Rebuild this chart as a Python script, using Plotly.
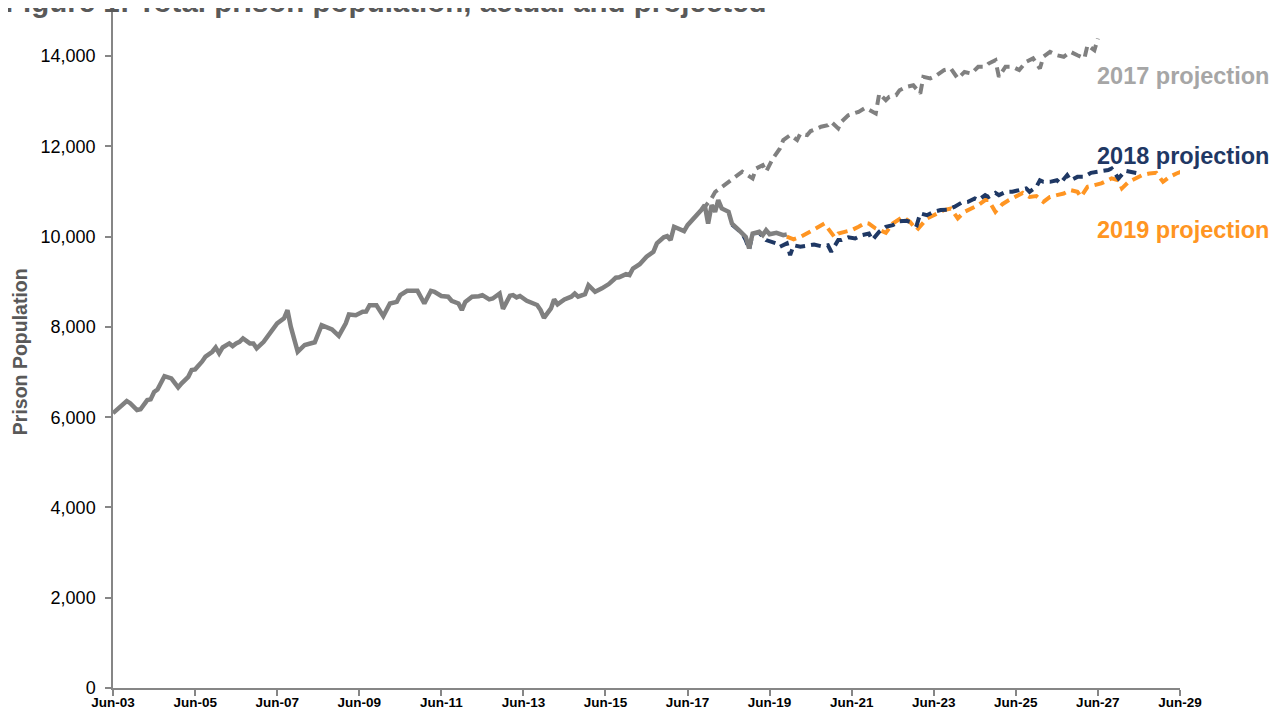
import plotly.graph_objects as go

# ---------------- data ----------------
actual_dates = ["2003-06","2003-08","2003-10","2003-11","2004-01","2004-02","2004-04","2004-05","2004-06","2004-07",
"2004-08","2004-09","2004-11","2005-01","2005-02","2005-04","2005-05","2005-06","2005-08","2005-09",
"2005-11","2005-12","2006-01","2006-02","2006-04","2006-05","2006-06","2006-07","2006-08","2006-10",
"2006-11","2006-12","2007-02","2007-04","2007-06","2007-08","2007-09","2007-10","2007-12","2008-02",
"2008-03","2008-05","2008-07","2008-09","2008-10","2008-12","2009-02","2009-03","2009-05","2009-07",
"2009-08","2009-09","2009-11","2010-01","2010-02","2010-03","2010-05","2010-06","2010-08","2010-10",
"2010-11","2011-01","2011-03","2011-04","2011-06","2011-08","2011-09","2011-11","2011-12","2012-01",
"2012-03","2012-05","2012-06","2012-08","2012-09","2012-11","2012-12","2013-02","2013-03","2013-04",
"2013-05","2013-07","2013-09","2013-10","2013-11","2013-12","2014-02","2014-03","2014-04","2014-06",
"2014-08","2014-09","2014-10","2014-12","2015-01","2015-03","2015-05","2015-07","2015-09","2015-10",
"2015-12","2016-01","2016-02","2016-04","2016-06","2016-08","2016-09","2016-11","2016-12","2017-01",
"2017-02","2017-04","2017-05","2017-06","2017-08","2017-09","2017-10","2017-11","2017-12","2018-01",
"2018-02","2018-03","2018-04","2018-06","2018-07","2018-09","2018-11","2018-12","2019-01","2019-03",
"2019-04","2019-05","2019-06","2019-08","2019-10","2019-11"]
actual_values = [6090,6230,6360,6310,6160,6175,6380,6395,6560,6615,
6785,6910,6860,6660,6750,6895,7045,7060,7230,7340,
7450,7545,7415,7545,7635,7575,7635,7670,7745,7635,
7635,7525,7670,7870,8080,8190,8370,8000,7450,7600,
7620,7660,8040,7965,7945,7800,8080,8275,8260,8335,
8340,8480,8480,8240,8410,8520,8555,8705,8800,8815,
8800,8520,8800,8780,8685,8670,8580,8520,8375,8555,
8670,8680,8705,8610,8630,8740,8400,8690,8705,8655,
8685,8580,8520,8485,8375,8200,8410,8610,8500,8610,
8670,8740,8670,8725,8925,8780,8855,8950,9090,9100,
9170,9150,9295,9390,9555,9665,9850,9985,10010,9925,
10220,10145,10125,10255,10425,10480,10590,10700,10290,10700,
10550,10810,10625,10550,10290,10145,9995,9740,10070,10110,
10035,10145,10055,10085,10035,10050]

proj2017_dates = ["2017-10","2017-11","2018-01","2018-02","2018-04","2018-06","2018-08","2018-10","2019-01","2019-02",
"2019-04","2019-05","2019-07","2019-09","2019-10","2019-12","2020-02","2020-03","2020-05","2020-06",
"2020-08","2020-09","2020-11","2020-12","2021-02","2021-03","2021-05","2021-07","2021-08","2021-10",
"2022-01","2022-02","2022-04","2022-05","2022-07","2022-08","2022-10","2022-12","2023-02","2023-03",
"2023-05","2023-07","2023-09","2023-11","2024-01","2024-03","2024-05","2024-07","2024-09","2024-10",
"2024-12","2025-01","2025-03","2025-05","2025-07","2025-09","2025-11","2026-01","2026-02","2026-04",
"2026-06","2026-08","2026-10","2026-12","2027-02","2027-03","2027-05","2027-06"]
proj2017_values = [10590,10660,10850,10990,11100,11215,11325,11440,11290,11510,
11585,11440,11735,11955,12140,12250,12140,12285,12250,12340,
12400,12435,12470,12545,12400,12545,12690,12730,12765,12855,
12730,13170,13025,13100,13135,13245,13320,13355,13170,13540,
13505,13580,13690,13725,13505,13650,13615,13765,13765,13835,
13910,13540,13765,13765,13690,13875,13950,13725,13985,14095,
14020,13985,14095,14020,13950,14245,14130,14390]

proj2018_dates = ["2018-07","2018-10","2018-11","2018-12","2019-01","2019-03","2019-05","2019-07","2019-08","2019-09",
"2019-11","2019-12","2020-01","2020-03","2020-05","2020-07","2020-09","2020-11","2020-12","2021-02",
"2021-03","2021-05","2021-07","2021-09","2021-11","2021-12","2022-02","2022-04","2022-06","2022-08",
"2022-10","2022-11","2023-01","2023-02","2023-04","2023-06","2023-08","2023-10","2023-12","2024-02",
"2024-04","2024-06","2024-07","2024-09","2024-10","2024-12","2025-01","2025-03","2025-05","2025-07",
"2025-09","2025-10","2025-12","2026-01","2026-02","2026-04","2026-06","2026-07","2026-09","2026-10",
"2026-12","2027-02","2027-04","2027-06","2027-09","2027-10","2027-12","2028-02","2028-04","2028-06"]
proj2018_values = [10270,10070,9925,9715,10070,10085,9925,9885,9850,9775,
9850,9590,9810,9775,9810,9825,9790,9810,9665,9925,
9925,9985,9960,10035,10070,9925,10110,10220,10255,10340,
10350,10330,10255,10515,10475,10550,10590,10600,10660,10750,
10770,10845,10810,10920,10880,10970,10920,10990,10995,11030,
11070,10995,11105,11250,11215,11215,11250,11180,11365,11250,
11325,11325,11415,11440,11475,11510,11290,11460,11440,11400]

proj2019_dates = ["2019-11","2020-01","2020-03","2020-05","2020-07","2020-10","2020-11","2021-01","2021-02","2021-04",
"2021-06","2021-08","2021-10","2021-11","2022-01","2022-04","2022-06","2022-09","2022-11","2023-01",
"2023-03","2023-04","2023-06","2023-09","2023-11","2024-01","2024-03","2024-05","2024-07","2024-09",
"2024-10","2024-12","2025-02","2025-04","2025-06","2025-08","2025-10","2025-12","2026-02","2026-04",
"2026-06","2026-08","2026-10","2026-12","2027-01","2027-03","2027-05","2027-07","2027-10","2027-12",
"2028-01","2028-03","2028-05","2028-07","2028-09","2028-11","2029-01","2029-03","2029-05","2029-07"]
proj2019_values = [10000,9940,9995,10070,10160,10290,10180,9985,10070,10110,
10145,10220,10305,10290,10180,10085,10290,10440,10330,10145,
10330,10400,10475,10590,10625,10405,10550,10625,10700,10810,
10810,10550,10720,10810,10880,10970,10880,10900,10770,10880,
10920,10955,11030,10995,10880,11105,11140,11180,11290,11250,
11070,11215,11290,11365,11400,11415,11215,11325,11400,11460]

tick_dates = ["2003-06","2005-06","2007-06","2009-06","2011-06","2013-06","2015-06",
              "2017-06","2019-06","2021-06","2023-06","2025-06","2027-06","2029-06"]
tick_labels = ["Jun-03","Jun-05","Jun-07","Jun-09","Jun-11","Jun-13","Jun-15",
               "Jun-17","Jun-19","Jun-21","Jun-23","Jun-25","Jun-27","Jun-29"]
y_ticks = [0, 2000, 4000, 6000, 8000, 10000, 12000, 14000]

title_text = "Figure 1: Total prison population, actual and projected"
y_title = "Prison Population"
series_labels = ["2017 projection", "2018 projection", "2019 projection"]

# ---------------- styles ----------------
GREY = "#808080"
NAVY = "#1F3864"
ORANGE = "#FF9522"
LABEL_GREY = "#A6A6A6"
AXIS = "#868686"
FONT = "Liberation Sans, Arial, sans-serif"
DASH = "10px,6px"


def d(lst):
    return [s + "-01" for s in lst]


fig = go.Figure()
fig.add_trace(go.Scatter(x=d(proj2017_dates), y=proj2017_values, mode="lines",
                         line=dict(color=GREY, width=4, dash=DASH), name="2017 projection"))
fig.add_trace(go.Scatter(x=d(proj2019_dates), y=proj2019_values, mode="lines",
                         line=dict(color=ORANGE, width=4, dash=DASH), name="2019 projection"))
fig.add_trace(go.Scatter(x=d(proj2018_dates), y=proj2018_values, mode="lines",
                         line=dict(color=NAVY, width=4, dash=DASH), name="2018 projection"))
fig.add_trace(go.Scatter(x=d(actual_dates), y=actual_values, mode="lines",
                         line=dict(color=GREY, width=4.5), name="Actual"))

label_specs = [(series_labels[0], LABEL_GREY, 13557), (series_labels[1], NAVY, 11785), (series_labels[2], ORANGE, 10145)]
for txt, col, yv in label_specs:
    fig.add_annotation(x=1.0, y=yv, xref="paper", yref="y", xanchor="left", yanchor="middle",
                       xshift=-85, text="<b>%s</b>" % txt, showarrow=False,
                       font=dict(family=FONT, size=23.5, color=col))

fig.add_annotation(x=0, y=1, xref="paper", yref="paper", xanchor="left", yanchor="bottom",
                   xshift=-110, yshift=-9, text="<b>%s</b>" % title_text, showarrow=False,
                   font=dict(family=FONT, size=29.5, color="#595959"))

fig.add_annotation(x=0, y=0.496, xref="paper", yref="paper", xanchor="center", yanchor="middle",
                   xshift=-93, textangle=-90, text="<b>%s</b>" % y_title, showarrow=False,
                   font=dict(family=FONT, size=19.5, color="#595959"))

fig.update_layout(
    width=1261, height=702,
    margin=dict(l=105, r=89, t=3, b=22, autoexpand=False),
    paper_bgcolor="white", plot_bgcolor="white",
    showlegend=False,
    font=dict(family=FONT, color="#000000"),
)
fig.update_xaxes(
    type="date", range=["2003-06-01", "2029-06-01"], automargin=False,
    tickvals=d(tick_dates), ticktext=["<b>%s</b>" % t for t in tick_labels],
    tickfont=dict(size=13.5, color="#000000"), ticklabelstandoff=-5,
    showgrid=False, zeroline=False,
    showline=True, linecolor=AXIS, linewidth=1.5,
    ticks="outside", ticklen=6, tickcolor=AXIS, tickwidth=1.5,
)
fig.update_yaxes(
    range=[0, 15000], automargin=False, tickvals=y_ticks,
    ticktext=["{:,}".format(v) for v in y_ticks],
    tickfont=dict(size=18, color="#000000"), ticklabelstandoff=6,
    showgrid=False, zeroline=False,
    showline=True, linecolor=AXIS, linewidth=1.5,
    ticks="outside", ticklen=6, tickcolor=AXIS, tickwidth=1.5,
)

fig.write_html("out.html")
